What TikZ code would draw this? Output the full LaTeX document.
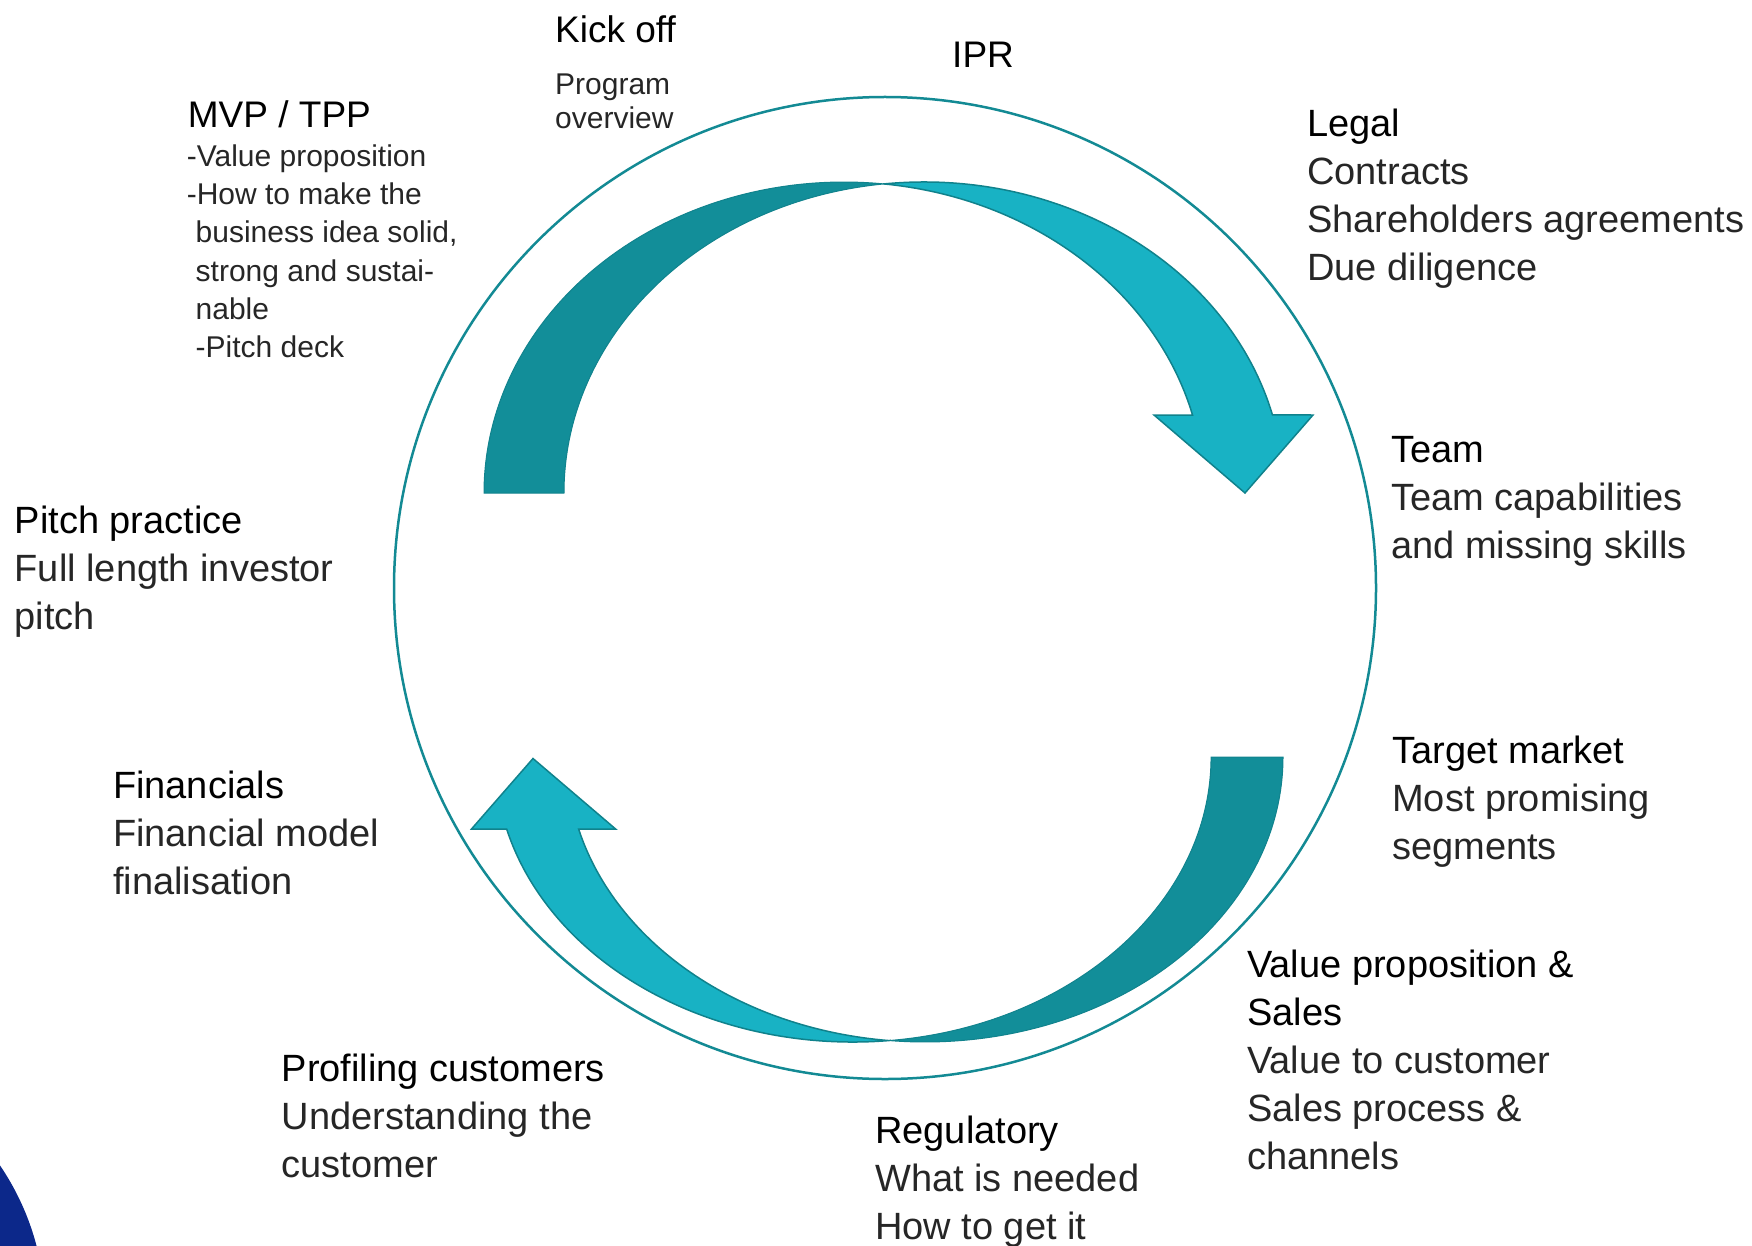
\documentclass[tikz,border=0pt]{standalone}
\usepackage{fontspec}
\setmainfont{Liberation Sans}
\definecolor{ringc}{RGB}{19,138,148}
\definecolor{darkteal}{RGB}{18,142,153}
\definecolor{lightteal}{RGB}{24,178,196}
\definecolor{edgec}{RGB}{16,130,140}
\definecolor{navyc}{RGB}{12,40,138}
\newcommand{\blk}[1]{\begin{tabular}[t]{@{}l@{}}#1\end{tabular}}
\newcommand{\hd}[1]{\textcolor{black}{#1}}
\begin{document}
\begin{tikzpicture}[x=1pt,y=-1pt,
  lbl/.style={anchor=base west, inner sep=0pt, text=black!85, font=\fontsize{38}{48}\selectfont},
  hdlbl/.style={anchor=base west, inner sep=0pt, text=black, font=\fontsize{37}{46}\selectfont},
  smalllbl/.style={anchor=base west, inner sep=0pt, text=black!85},
  ring/.style={draw=ringc, line width=2.5pt},
  backband/.style={fill=darkteal, draw=darkteal!92!black, line width=1pt},
  frontband/.style={fill=lightteal, draw=edgec, line width=1.5pt}]
\useasboundingbox (0,0) rectangle (1752,1246);
\begin{scope}
  \clip (0,0) rectangle (1752,1246);
  \fill[navyc] (-216,1312) circle[radius=261];
\end{scope}
% ring
\draw[ring] (885,588) circle[radius=491];
% top curved arrow
\draw[backband] (484,493) arc[start angle=180, end angle=276.38, x radius=360, y radius=311]
  arc[start angle=263.62, end angle=180, x radius=360, y radius=311] -- cycle;
\draw[frontband] (884,183.93) arc[start angle=263.62, end angle=345.47, x radius=360, y radius=311]
  -- (1313,415) -- (1245,493) -- (1154,415) -- (1192.5,415)
  arc[start angle=345.47, end angle=276.38, x radius=360, y radius=311] -- cycle;
% bottom curved arrow
\draw[backband] (1283,757) arc[start angle=0, end angle=95.77, x radius=358, y radius=285]
  arc[start angle=84.23, end angle=0, x radius=358, y radius=285] -- cycle;
\draw[frontband] (889,1040.56) arc[start angle=84.23, end angle=165.37, x radius=358, y radius=285]
  -- (471.5,829) -- (533,758.5) -- (615.6,829) -- (578.6,829)
  arc[start angle=165.37, end angle=95.77, x radius=358, y radius=285] -- cycle;
% labels
\node[hdlbl] (kick) at (555,42.5) {Kick off};
\node[smalllbl, font=\fontsize{30}{34}\selectfont] (prog) at (555,95) {\blk{Program\\overview}};
\node[hdlbl] (ipr) at (952,68) {IPR};
\node[hdlbl] (mvp) at (187.7,128) {MVP / TPP};
\node[smalllbl, font=\fontsize{30}{38.2}\selectfont] (mvpbody) at (186.6,166.5)
  {\blk{-Value proposition\\-How to make the\\\hspace{8.9pt}business idea solid,\\\hspace{8.9pt}strong and sustai-\\\hspace{8.9pt}nable\\\hspace{8.9pt}-Pitch deck}};
\node[lbl] (legal) at (1307,137) {\blk{\hd{Legal}\\Contracts\\Shareholders agreements\\Due diligence}};
\node[lbl] (team) at (1391,462) {\blk{\hd{Team}\\Team capabilities\\and missing skills}};
\node[lbl] (target) at (1392,763) {\blk{\hd{Target market}\\Most promising\\segments}};
\node[lbl] (vps) at (1247,977) {\blk{\hd{Value proposition \&}\\\hd{Sales}\\Value to customer\\Sales process \&\\channels}};
\node[lbl] (reg) at (875,1143.6) {\blk{\hd{Regulatory}\\What is needed\\How to get it}};
\node[lbl] (prof) at (281.6,1081) {\blk{\hd{Profiling customers}\\Understanding the\\customer}};
\node[lbl] (fin) at (112.8,798.3) {\blk{\hd{Financials}\\Financial model\\finalisation}};
\node[lbl] (pitch) at (14.5,533.5) {\blk{\hd{Pitch practice}\\Full length investor\\pitch}};
\end{tikzpicture}
\end{document}
